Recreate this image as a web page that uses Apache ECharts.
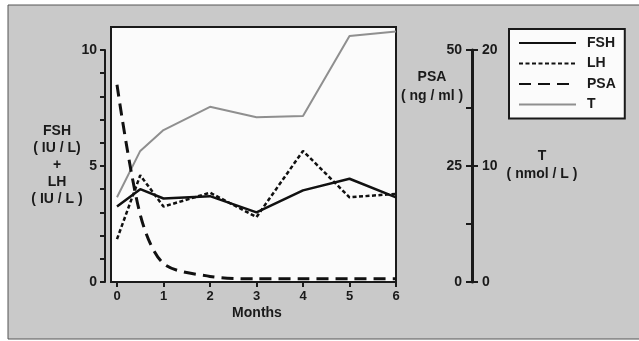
<!DOCTYPE html>
<html><head><meta charset="utf-8">
<script src="https://cdn.jsdelivr.net/npm/echarts@6/dist/echarts.min.js"></script>
<style>html,body{margin:0;padding:0;background:#fff}#c{width:639px;height:341px}</style>
</head><body><div id="c"></div>
<script>
var months = [0, 0.5, 1, 2, 3, 4, 5, 6];
var fsh = [3.25, 4.0, 3.6, 3.7, 3.0, 3.95, 4.45, 3.65];
var lh = [1.85, 4.6, 3.25, 3.85, 2.8, 5.65, 3.65, 3.8];
var psa = [42.5, 14.5, 4.0, 1.2, 0.7, 0.7, 0.7, 0.7];
var tes = [7.3, 11.3, 13.1, 15.1, 14.2, 14.3, 21.2, 21.6];
var leftTicks = [0, 5, 10];
var psaTicks = [0, 25, 50];
var tTicks = [0, 10, 20];

function pairs(v){ return months.map(function(m,i){ return [m, v[i]]; }); }
var F = 'Liberation Sans, Arial, sans-serif';
var ink = '#1a1a1a';
var chart = echarts.init(document.getElementById('c'));
chart.setOption({
  backgroundColor: '#fff',
  animation: false,
  grid: { left: 117, right: 243, top: 50, bottom: 59 },
  graphic: { elements: [
    { type: 'rect', z: -20, shape: { x: 8, y: 5, width: 700, height: 334 },
      style: { fill: '#c9c9c9', stroke: '#555', lineWidth: 1 } },
    { type: 'rect', z: -10, shape: { x: 111, y: 27, width: 285, height: 255 },
      style: { fill: '#fbfbfb', stroke: '#1a1a1a', lineWidth: 2 } },
    { type: 'text', x: 57, y: 165, style: { text: 'FSH\n( IU / L)\n+\nLH\n( IU / L )', textAlign: 'center', textVerticalAlign: 'middle', font: 'bold 14px ' + F, lineHeight: 17, fill: ink } },
    { type: 'text', x: 257, y: 313, style: { text: 'Months', textAlign: 'center', textVerticalAlign: 'middle', font: 'bold 14px ' + F, fill: ink } },
    { type: 'text', x: 432, y: 87, style: { text: 'PSA\n( ng / ml )', textAlign: 'center', textVerticalAlign: 'middle', font: 'bold 14px ' + F, lineHeight: 19, fill: ink } },
    { type: 'text', x: 542, y: 165, style: { text: 'T\n( nmol / L )', textAlign: 'center', textVerticalAlign: 'middle', font: 'bold 14px ' + F, lineHeight: 18, fill: ink } }
  ]},
  legend: {
    orient: 'vertical', left: 509, top: 29,
    padding: [7, 9, 7, 9], itemWidth: 57, itemHeight: 14, itemGap: 6.5,
    backgroundColor: '#fbfbfb', borderColor: '#1a1a1a', borderWidth: 2,
    itemStyle: { opacity: 0 },
    textStyle: { fontFamily: F, fontWeight: 'bold', fontSize: 14, color: ink, padding: [0, 0, 0, 6] },
    data: ['FSH', 'LH', 'PSA', 'T']
  },
  xAxis: {
    type: 'value', min: 0, max: 6, interval: 1,
    axisLine: { show: false },
    axisTick: { show: true, length: 5, lineStyle: { color: ink, width: 2 } },
    axisLabel: { margin: 8, fontFamily: F, fontWeight: 'bold', fontSize: 13, color: ink },
    splitLine: { show: false }
  },
  yAxis: [
    { type: 'value', min: 0, max: 10, interval: 1, position: 'left', offset: 12,
      axisLine: { show: true, onZero: false, lineStyle: { color: ink, width: 2 } },
      axisTick: { show: true, length: 5, lineStyle: { color: ink, width: 2 } },
      axisLabel: { margin: 8, fontFamily: F, fontWeight: 'bold', fontSize: 14, color: ink,
        formatter: function(v){ return leftTicks.indexOf(v) >= 0 ? String(v) : ''; } },
      splitLine: { show: false } },
    { type: 'value', min: 0, max: 50, interval: 12.5, position: 'right', offset: 76,
      axisLine: { show: true, onZero: false, lineStyle: { color: ink, width: 3 } },
      axisTick: { show: true, inside: true, length: 6, lineStyle: { color: ink, width: 2 } },
      axisLabel: { inside: true, margin: 10, fontFamily: F, fontWeight: 'bold', fontSize: 14, color: ink,
        formatter: function(v){ return psaTicks.indexOf(v) >= 0 ? String(v) : ''; } },
      splitLine: { show: false } },
    { type: 'value', min: 0, max: 20, interval: 10, position: 'right', offset: 76,
      axisLine: { show: false, onZero: false },
      axisTick: { show: true, length: 6, lineStyle: { color: ink, width: 2 } },
      axisLabel: { margin: 10, fontFamily: F, fontWeight: 'bold', fontSize: 14, color: ink,
        formatter: function(v){ return tTicks.indexOf(v) >= 0 ? String(v) : ''; } },
      splitLine: { show: false } }
  ],
  series: [
    { name: 'FSH', type: 'line', yAxisIndex: 0, data: pairs(fsh), symbol: 'none',
      lineStyle: { color: '#111', width: 2.5 }, itemStyle: { color: '#111' }, z: 5 },
    { name: 'LH', type: 'line', yAxisIndex: 0, data: pairs(lh), symbol: 'none',
      lineStyle: { color: '#111', width: 2.5, type: [4, 2.5] }, itemStyle: { color: '#111' }, z: 4 },
    { name: 'PSA', type: 'line', yAxisIndex: 1, data: pairs(psa), symbol: 'none', smooth: 0.3,
      lineStyle: { color: '#111', width: 3, type: [12, 7] }, itemStyle: { color: '#111' }, z: 3 },
    { name: 'T', type: 'line', yAxisIndex: 2, data: pairs(tes), symbol: 'none', clip: false,
      lineStyle: { color: '#8f8f8f', width: 2 }, itemStyle: { color: '#8f8f8f' }, z: 2 }
  ]
});
</script></body></html>
